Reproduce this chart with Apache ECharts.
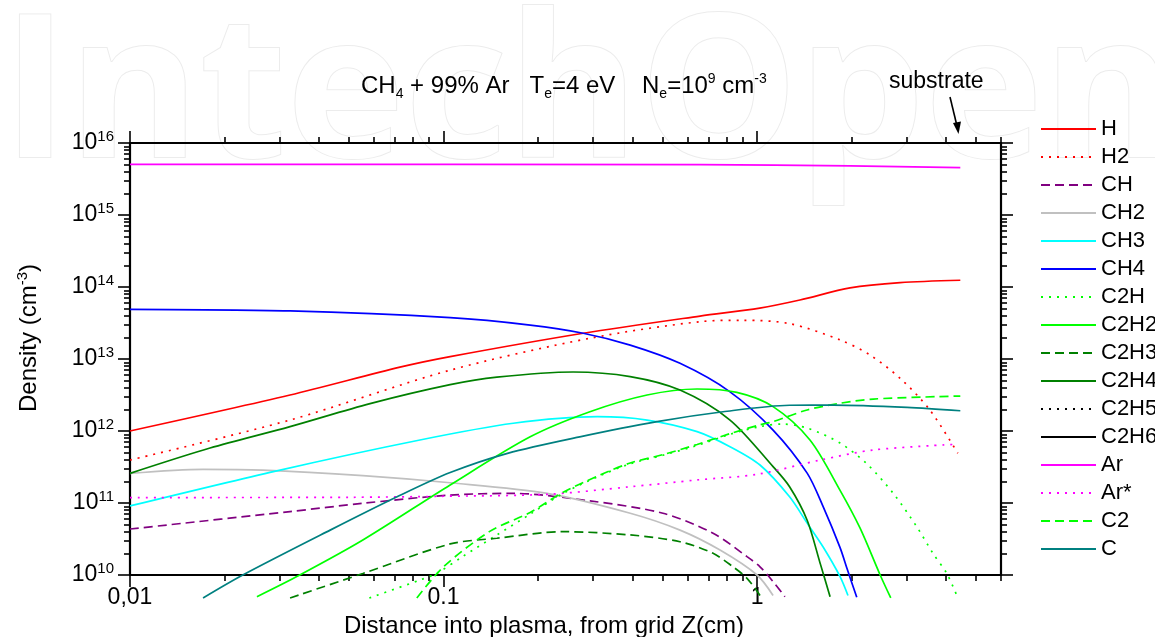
<!DOCTYPE html>
<html>
<head>
<meta charset="utf-8">
<title>CH4 + 99% Ar species densities</title>
<script src="https://cdn.jsdelivr.net/npm/echarts@6/dist/echarts.min.js"></script>
<style>
  html, body { margin: 0; padding: 0; background: #fff; }
  #main { width: 1155px; height: 637px; }
</style>
</head>
<body>
<div id="main"></div>
<script>
// densities (cm^-3) against distance from the grid z (cm)
const H     = [[0.01,1.0e12],[0.0324,3.16e12],[0.0726,7.7e12],[0.105,1.08e13],[0.279,2.28e13],[0.658,3.95e13],[1.02,5.1e13],[1.37,6.6e13],[1.98,9.7e13],[2.86,1.15e14],[4.45,1.24e14]];
const H2    = [[0.01,3.95e11],[0.0324,1.42e12],[0.105,7.0e12],[0.293,1.94e13],[0.658,3.3e13],[0.9,3.45e13],[1.27,3.1e13],[1.84,1.84e13],[2.29,1.14e13],[2.86,5.4e12],[3.56,1.95e12],[4.37,4.9e11]];
const CH    = [[0.01,4.35e10],[0.0324,7.6e10],[0.0553,9.9e10],[0.105,1.29e11],[0.167,1.36e11],[0.293,1.07e11],[0.501,7.2e10],[0.724,3.8e10],[0.929,1.8e10],[1.022,1.3e10],[1.125,8.1e9],[1.227,5.0e9]];
const CH2   = [[0.01,2.58e11],[0.0171,2.94e11],[0.0265,2.87e11],[0.0553,2.4e11],[0.105,1.91e11],[0.214,1.36e11],[0.394,7.2e10],[0.568,4.2e10],[0.762,2.22e10],[1.0,1.0e10],[1.125,5.2e9]];
const CH3   = [[0.01,9.1e10],[0.0294,2.8e11],[0.0841,7.5e11],[0.167,1.28e12],[0.309,1.58e12],[0.446,1.42e12],[0.644,9.8e11],[0.82,6.05e11],[1.022,3.37e11],[1.27,1.22e11],[1.445,5.25e10],[1.625,2.45e10],[1.84,9.5e9],[1.95,5.2e9]];
const CH4   = [[0.01,4.9e13],[0.0324,4.65e13],[0.105,3.75e13],[0.189,2.96e13],[0.279,2.28e13],[0.394,1.56e13],[0.568,8.7e12],[0.82,3.5e12],[1.125,1.03e12],[1.445,2.6e11],[1.625,8.9e10],[1.84,2.4e10],[1.94,1.2e10],[2.08,4.9e9]];
const C2H   = [[0.058,4.8e9],[0.084,8.5e9],[0.0956,1.07e10],[0.115,1.8e10],[0.148,3.6e10],[0.189,7.0e10],[0.24,1.35e11],[0.309,2.3e11],[0.394,3.5e11],[0.501,4.6e11],[0.644,6.3e11],[0.82,9.0e11],[1.022,1.15e12],[1.2,1.25e12],[1.445,1.1e12],[1.84,6.8e11],[2.24,3.5e11],[2.72,1.36e11],[3.23,4.7e10],[3.64,2.0e10],[4.03,1.05e10],[4.37,4.8e9]];
const C2H2  = [[0.0254,5.0e9],[0.0348,1.0e10],[0.0553,3.06e10],[0.105,1.78e11],[0.189,8.3e11],[0.293,1.85e12],[0.446,3.16e12],[0.644,3.83e12],[0.862,3.44e12],[1.125,2.18e12],[1.475,7.5e11],[1.84,1.5e11],[2.13,4.5e10],[2.47,1.0e10],[2.67,4.8e9]];
const C2H3  = [[0.0324,4.8e9],[0.0553,1.05e10],[0.105,2.7e10],[0.148,3.24e10],[0.24,4.0e10],[0.394,3.6e10],[0.568,2.9e10],[0.724,2.0e10],[0.838,1.3e10],[0.929,9.0e9],[1.022,5.2e9]];
const C2H4  = [[0.01,2.58e11],[0.018,5.8e11],[0.0324,1.15e12],[0.0583,2.4e12],[0.105,4.4e12],[0.148,5.6e12],[0.259,6.6e12],[0.394,5.7e12],[0.568,3.7e12],[0.82,1.42e12],[1.125,3.2e11],[1.27,1.68e11],[1.445,5.75e10],[1.59,1.45e10],[1.71,5.0e9]];
const C2H5  = [];   // below the plotted range
const C2H6  = [];   // below the plotted range
const Ar    = [[0.01,5.06e15],[0.658,5.0e15],[1.98,4.8e15],[4.45,4.54e15]];
const ArStar = [[0.01,1.19e11],[0.05,1.2e11],[0.1,1.24e11],[0.214,1.32e11],[0.394,1.68e11],[0.644,2.09e11],[1.0,2.5e11],[1.59,3.95e11],[2.35,5.45e11],[4.22,6.5e11]];
const C2    = [[0.0822,4.8e9],[0.1,1.3e10],[0.14,4.0e10],[0.189,7.4e10],[0.24,1.4e11],[0.309,2.35e11],[0.394,3.6e11],[0.501,4.7e11],[0.644,6.5e11],[0.82,9.2e11],[1.022,1.22e12],[1.125,1.35e12],[1.445,1.96e12],[1.84,2.43e12],[2.35,2.78e12],[4.45,3.06e12]];
const C     = [[0.0171,4.8e9],[0.0229,1.0e10],[0.0435,4.2e10],[0.0711,1.22e11],[0.105,2.65e11],[0.16,4.9e11],[0.272,8.3e11],[0.48,1.35e12],[0.779,1.85e12],[1.27,2.28e12],[1.75,2.29e12],[3.01,2.13e12],[4.45,1.91e12]];

// axes
const xMin = 0.01, xMax = 6;
const yMin = 1e10, yMax = 1e16;
const xMajor = [0.01, 0.1, 1];
const xMajorLabels = ['0,01', '0.1', '1'];
const xMinor = [0.02,0.03,0.04,0.05,0.06,0.07,0.08,0.09,0.2,0.3,0.4,0.5,0.6,0.7,0.8,0.9,2,3,4,5,6];
const yMajor = [1e10, 1e11, 1e12, 1e13, 1e14, 1e15, 1e16];
const yMajorExp = ['10', '11', '12', '13', '14', '15', '16'];
const mantissas = [2, 3, 4, 5, 6, 7, 8, 9];

const FONT = '"Liberation Sans", Arial, Helvetica, sans-serif';
const lg = Math.log10;

let yMinor = [];
yMajor.slice(0, -1).forEach(function (p) {
  mantissas.forEach(function (m) { yMinor.push(m * p); });
});

// [name, data, colour, dash]
const seriesDef = [
  ['H', H, '#ff0000', 'solid'],
  ['H2', H2, '#ff0000', [2, 6]],
  ['CH', CH, '#800080', [9, 5]],
  ['CH2', CH2, '#c0c0c0', 'solid'],
  ['CH3', CH3, '#00ffff', 'solid'],
  ['CH4', CH4, '#0000ff', 'solid'],
  ['C2H', C2H, '#00ff00', [2, 6]],
  ['C2H2', C2H2, '#00ff00', 'solid'],
  ['C2H3', C2H3, '#008000', [9, 5]],
  ['C2H4', C2H4, '#008000', 'solid'],
  ['C2H5', C2H5, '#000000', [2, 6]],
  ['C2H6', C2H6, '#000000', 'solid'],
  ['Ar', Ar, '#ff00ff', 'solid'],
  ['Ar*', ArStar, '#ff00ff', [2, 6]],
  ['C2', C2, '#00ff00', [9, 5]],
  ['C', C, '#008080', 'solid']
];

// tick-only axes in log10 space, laid over the log axes that carry the data
function tickAxis(position, min, max, ticks, len, extra) {
  return Object.assign({
    type: 'value',
    position: position,
    min: min,
    max: max,
    splitLine: { show: false },
    axisLine: { show: false, onZero: false },
    axisTick: { show: true, inside: false, length: len, customValues: ticks.map(lg), lineStyle: { color: '#000', width: 1.6 } },
    axisLabel: { show: false }
  }, extra || {});
}

const frameLine = { show: true, onZero: false, lineStyle: { color: '#000', width: 2.2 } };

const chart = echarts.init(document.getElementById('main'));
chart.setOption({
  animation: false,
  backgroundColor: '#fff',
  textStyle: { fontFamily: FONT, color: '#000' },
  title: {
    text: 'CH{sub|4} + 99% Ar   T{sub|e}=4 eV    N{sub|e}=10{sup|9} cm{sup|-3}',
    left: 356,
    top: 67,
    textStyle: {
      fontFamily: FONT, fontSize: 24, fontWeight: 'normal', color: '#000',
      rich: {
        sub: { fontFamily: FONT, fontSize: 14, color: '#000', padding: [15, 0, 0, 0] },
        sup: { fontFamily: FONT, fontSize: 14, color: '#000', padding: [0, 0, 15, 0] }
      }
    }
  },
  legend: {
    orient: 'vertical',
    left: 1035,
    top: 113,
    itemWidth: 55,
    itemHeight: 18,
    itemGap: 6,
    itemStyle: { opacity: 0 },
    textStyle: { fontFamily: FONT, fontSize: 22, color: '#000', lineHeight: 18 },
    data: seriesDef.map(function (s) { return s[0]; })
  },
  grid: { left: 130, top: 143, right: 154, bottom: 62, containLabel: false, outerBoundsMode: 'none' },
  xAxis: [
    { type: 'log', min: xMin, max: xMax, show: false },
    tickAxis('bottom', lg(xMin), lg(xMax), xMajor, 12, {
      axisLine: frameLine,
      axisLabel: {
        show: true, margin: 11, fontFamily: FONT, fontSize: 23, color: '#000',
        customValues: xMajor.map(lg),
        formatter: function (v) {
          const i = xMajor.findIndex(function (t) { return Math.abs(lg(t) - v) < 1e-6; });
          return i < 0 ? '' : xMajorLabels[i];
        }
      },
      name: 'Distance into plasma, from grid Z(cm)',
      nameLocation: 'middle',
      nameGap: 35,
      nameTextStyle: { fontFamily: FONT, fontSize: 24, color: '#000', padding: [0, 43, 0, 0] }
    }),
    tickAxis('bottom', lg(xMin), lg(xMax), xMinor, 6),
    tickAxis('top', lg(xMin), lg(xMax), xMajor, 12, { axisLine: frameLine }),
    tickAxis('top', lg(xMin), lg(xMax), xMinor, 6)
  ],
  yAxis: [
    { type: 'log', min: yMin, max: yMax, show: false },
    tickAxis('left', lg(yMin), lg(yMax), yMajor, 12, {
      axisLine: frameLine,
      axisLabel: {
        show: true, margin: 16, fontFamily: FONT, fontSize: 23, color: '#000',
        customValues: yMajor.map(lg),
        formatter: function (v) {
          const i = yMajor.findIndex(function (t) { return Math.abs(lg(t) - v) < 1e-6; });
          return i < 0 ? '' : '10{sup|' + yMajorExp[i] + '}';
        },
        rich: { sup: { fontFamily: FONT, fontSize: 15, color: '#000', padding: [0, 0, 12, 0] } }
      },
      name: 'Density (cm{sup|-3})',
      nameLocation: 'middle',
      nameGap: 86,
      nameRotate: 90,
      nameTextStyle: {
        fontFamily: FONT, fontSize: 24, color: '#000', padding: [0, 0, 0, 42],
        rich: { sup: { fontFamily: FONT, fontSize: 15, color: '#000', padding: [0, 0, 14, 0] } }
      }
    }),
    tickAxis('left', lg(yMin), lg(yMax), yMinor, 6),
    tickAxis('right', lg(yMin), lg(yMax), yMajor, 12, { axisLine: frameLine }),
    tickAxis('right', lg(yMin), lg(yMax), yMinor, 6)
  ],
  graphic: [
    {
      type: 'text', z: -100, silent: true,
      style: { x: 2, y: 0, text: 'IntechOpen', font: 'bold 200px "Open Sans"', fill: '#fff', stroke: '#ececec', lineWidth: 2 }
    },
    {
      type: 'text', silent: true,
      style: { x: 889, y: 70, text: 'substrate', font: '23px ' + FONT, fill: '#000' }
    },
    {
      type: 'line', silent: true,
      shape: { x1: 950, y1: 97, x2: 957, y2: 126 },
      style: { stroke: '#000', lineWidth: 1.6 }
    },
    {
      type: 'polygon', silent: true,
      shape: { points: [[958.5, 134], [953, 123], [961, 121.5]] },
      style: { fill: '#000' }
    }
  ],
  series: seriesDef.map(function (s) {
    return {
      name: s[0],
      type: 'line',
      data: s[1],
      xAxisIndex: 0,
      yAxisIndex: 0,
      showSymbol: false,
      symbol: 'none',
      smooth: 0.3,
      clip: false,
      silent: true,
      lineStyle: { color: s[2], width: 1.7, type: s[3] },
      itemStyle: { color: s[2] }
    };
  })
});
</script>
</body>
</html>
